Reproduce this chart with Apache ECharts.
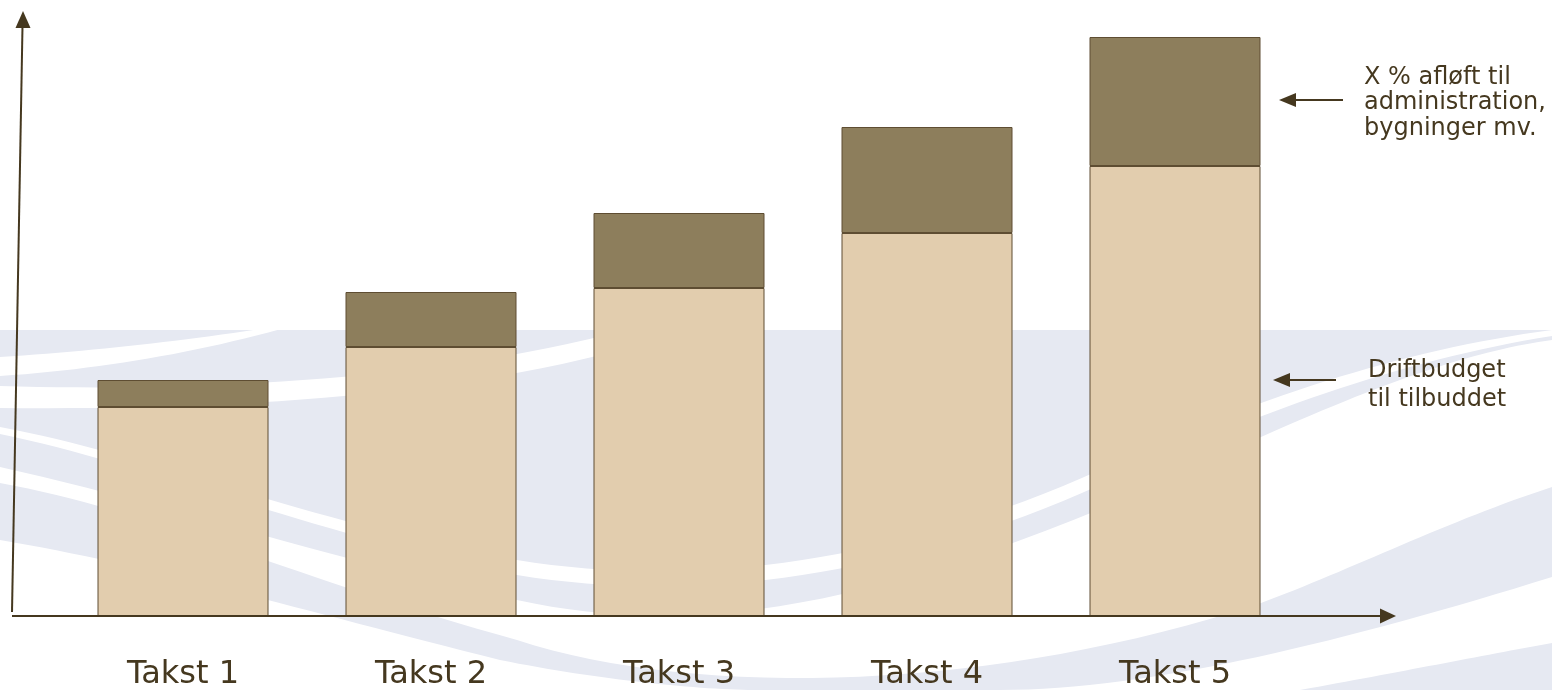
<!DOCTYPE html>
<html>
<head>
<meta charset="utf-8">
<script src="https://cdn.jsdelivr.net/npm/echarts@6/dist/echarts.min.js"></script>
<style>
html,body{margin:0;padding:0;background:#fff;}
#chart{width:1552px;height:690px;}
</style>
</head>
<body>
<div id="chart"></div>
<script>
// ---- data ----
var categories = ['Takst 1', 'Takst 2', 'Takst 3', 'Takst 4', 'Takst 5'];
var driftbudget = [209, 269, 328, 383, 450];   // Driftbudget til tilbuddet
var afloeft = [27, 55, 75, 106, 129];          // X % afløft til administration, bygninger mv.
var noteTop = 'X % afløft til\nadministration,\nbygninger mv.';
var noteBottom = 'Driftbudget\ntil tilbuddet';

var LIGHT = '#e6e9f2';
var INK = '#45381f';
var FONT = 'DejaVu Sans';

// turn a simple path string (M, L, Q, C, Z with absolute coords) into polygon points
function pathPoints(d) {
  var toks = d.match(/[MLQCZ]|-?\d+(\.\d+)?/g), pts = [], i = 0, cur = [0, 0], cmd;
  function num() { return parseFloat(toks[i++]); }
  while (i < toks.length) {
    if (/[MLQCZ]/.test(toks[i])) cmd = toks[i++];
    if (cmd === 'Z') continue;
    if (cmd === 'M' || cmd === 'L') { cur = [num(), num()]; pts.push(cur); }
    else if (cmd === 'Q') {
      var c1 = [num(), num()], e = [num(), num()], s = cur;
      for (var t = 1; t <= 24; t++) { var u = t / 24, v = 1 - u;
        pts.push([v * v * s[0] + 2 * v * u * c1[0] + u * u * e[0], v * v * s[1] + 2 * v * u * c1[1] + u * u * e[1]]); }
      cur = e;
    } else if (cmd === 'C') {
      var a = [num(), num()], b = [num(), num()], e2 = [num(), num()], s2 = cur;
      for (var k = 1; k <= 32; k++) { var w = k / 32, z = 1 - w;
        pts.push([z*z*z*s2[0] + 3*z*z*w*a[0] + 3*z*w*w*b[0] + w*w*w*e2[0], z*z*z*s2[1] + 3*z*z*w*a[1] + 3*z*w*w*b[1] + w*w*w*e2[1]]); }
      cur = e2;
    }
  }
  return pts;
}
function shape(d, fill) { return {type: 'polygon', shape: {points: pathPoints(d)}, style: {fill: fill}}; }

var chart = echarts.init(document.getElementById('chart'), null, {renderer: 'canvas'});

var bg = [
  {type: 'rect', shape: {x: 0, y: 330, width: 1552, height: 360}, style: {fill: LIGHT}},
  shape('M0,357 Q140,348 280,326 L292,326 Q150,366 0,376 Z', '#fff'),
  shape('M0,386 C200,392 450,380 640,326 L700,326 C500,395 250,410 0,408 Z', '#fff'),
  shape('M0,427 C150,455 300,520 517,560 C700,590 900,560 1100,470 C1250,400 1400,350 1552,330 L1552,336 C1400,360 1250,415 1100,485 C900,575 700,605 517,575 C300,530 150,465 0,434 Z', '#fff'),
  shape('M0,467 C150,500 300,550 517,600 C700,640 900,610 1261,437 C1400,375 1480,350 1552,340 L1552,487 C1450,520 1350,570 1261,603 C1000,690 700,700 517,640 C300,580 150,510 0,483 Z', '#fff'),
  shape('M0,540 C150,565 300,610 500,660 C600,680 700,690 760,690 L0,690 Z', '#fff'),
  shape('M1552,577 C1350,640 1150,690 1000,690 L1300,690 C1400,672 1480,656 1552,643 Z', '#fff'),
  {type: 'rect', shape: {x: 0, y: 0, width: 1552, height: 330}, style: {fill: '#fff'}}
];
bg.forEach(function (e) { e.z = -10; e.silent = true; });

var fg = [
  {type: 'line', shape: {x1: 12, y1: 612, x2: 22.5, y2: 26}, style: {stroke: INK, lineWidth: 2}},
  {type: 'polygon', shape: {points: [[23, 11], [15.5, 28], [30.5, 28]]}, style: {fill: INK}},
  {type: 'line', shape: {x1: 12, y1: 616, x2: 1382, y2: 616}, style: {stroke: INK, lineWidth: 2}},
  {type: 'polygon', shape: {points: [[1396, 616], [1380, 608.5], [1380, 623.5]]}, style: {fill: INK}},
  {type: 'line', shape: {x1: 1292, y1: 100, x2: 1343, y2: 100}, style: {stroke: INK, lineWidth: 2}},
  {type: 'polygon', shape: {points: [[1279, 100], [1296, 93], [1296, 107]]}, style: {fill: INK}},
  {type: 'line', shape: {x1: 1286, y1: 380, x2: 1336, y2: 380}, style: {stroke: INK, lineWidth: 2}},
  {type: 'polygon', shape: {points: [[1273, 380], [1290, 373], [1290, 387]]}, style: {fill: INK}},
  {type: 'text', x: 1364, y: 65, style: {text: noteTop, fill: INK, font: '24px "DejaVu Sans"', lineHeight: 25.5}},
  {type: 'text', x: 1368, y: 357, style: {text: noteBottom, fill: INK, font: '24px "DejaVu Sans"', lineHeight: 28.5}}
];
fg.forEach(function (e) { e.z = 20; e.silent = true; });

var option = {
  backgroundColor: '#fff',
  animation: false,
  textStyle: {fontFamily: FONT},
  grid: {left: 59, right: 253, top: 16, bottom: 74, containLabel: false, outerBoundsMode: 'none'},
  xAxis: {
    type: 'category',
    data: categories,
    axisLine: {show: false},
    axisTick: {show: false},
    splitLine: {show: false},
    axisLabel: {fontSize: 32, color: INK, margin: 43, fontFamily: FONT}
  },
  yAxis: {type: 'value', min: 0, max: 600, show: false, splitLine: {show: false}},
  series: [
    {
      name: 'Driftbudget til tilbuddet', type: 'bar', stack: 'total', data: driftbudget,
      barWidth: 171,
      itemStyle: {color: '#e2cdae', borderColor: '#5e4d32', borderWidth: 1}
    },
    {
      name: 'X % afløft', type: 'bar', stack: 'total', data: afloeft,
      barWidth: 171,
      itemStyle: {color: '#8d7e5c', borderColor: '#5e4d32', borderWidth: 1}
    }
  ],
  graphic: {elements: bg.concat(fg)}
};
chart.setOption(option);
</script>
</body>
</html>
